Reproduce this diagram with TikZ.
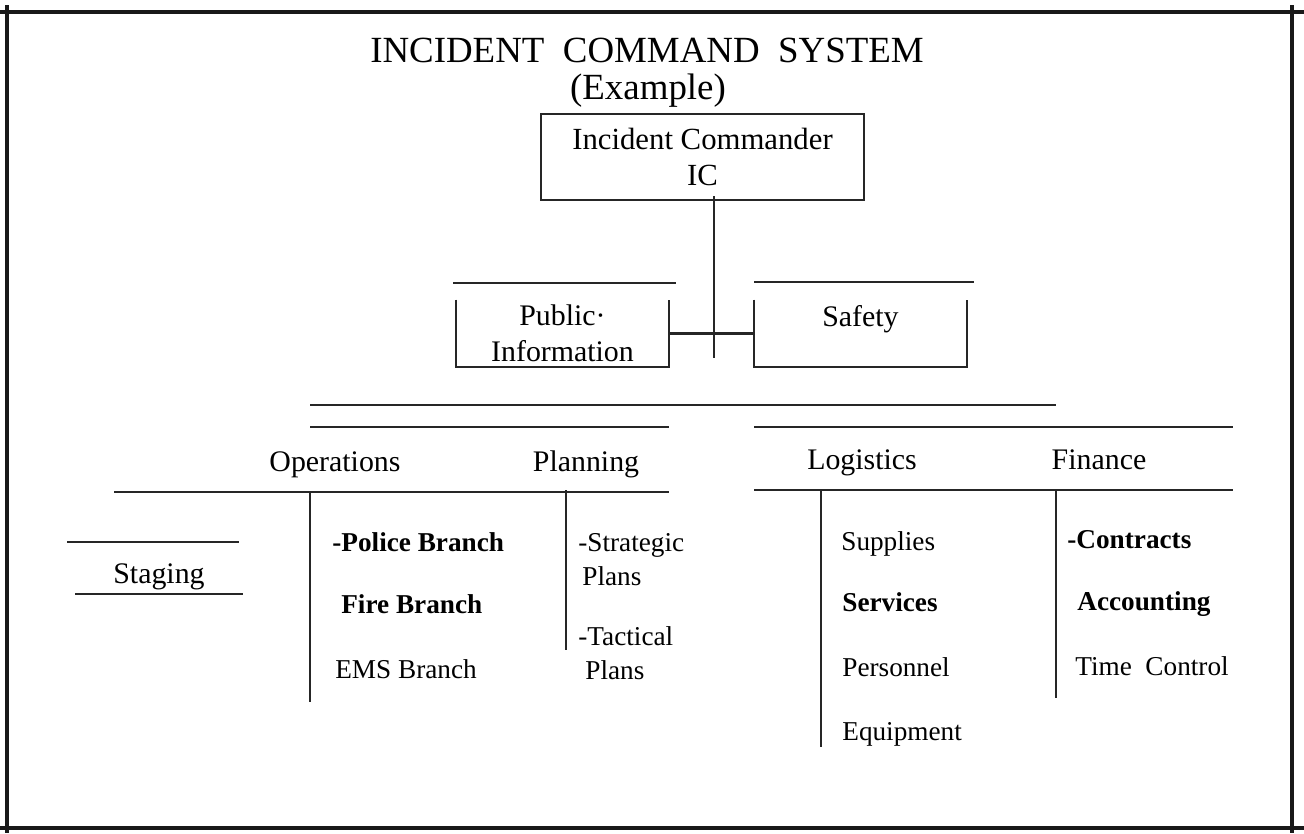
\documentclass[tikz,border=0pt]{standalone}
\usepackage{fontspec}
\setmainfont{Liberation Serif}

\begin{document}
\begin{tikzpicture}[x=0.02cm,y=-0.02cm,
	bar/.style={line width=1.2pt, draw=black!85},
	frameline/.style={line width=2pt, draw=black!90},
	title/.style={font=\fontsize{21}{24}\selectfont, inner sep=0pt},
	head/.style={anchor=base, inner sep=0pt, font=\fontsize{17}{20}\selectfont},
	icbox/.style={draw=black!85, line width=1.2pt, minimum width=6.46cm, minimum height=1.72cm, inner sep=0pt, align=center, font=\fontsize{17.5}{20}\selectfont},
	openbox/.style={minimum width=4.26cm, minimum height=1.34cm, inner sep=0pt, align=center, font=\fontsize{17}{20.5}\selectfont},
	item/.style={anchor=base west, inner sep=0pt, font=\fontsize{15.5}{19}\selectfont},
	bitem/.style={item, font=\fontsize{15.5}{19}\selectfont\bfseries}]
	\useasboundingbox (0,0) rectangle (1304,833);
	% frame
	\draw[frameline] (0,12) -- (1304,12);
	\draw[frameline] (0,828) -- (1304,828);
	\draw[frameline] (7,5) -- (7,833);
	\draw[frameline] (1292,5) -- (1292,833);
	% title
	\node[title] (title) at (647,50) {INCIDENT\ \ COMMAND\ \ SYSTEM};
	\node[title] (example) at (648,91) {(Example)};
	% commander and staff
	\node[icbox] (ic) at (702.5,157) {Incident Commander\\IC};
	\node[openbox] (pi) at (562.5,333.5) {Public·\\Information};
	\node[openbox] (safety) at (860.5,333.5) {Safety\\\phantom{I}};
	\draw[bar] (453,283) -- (676,283);
	\draw[bar] (754,282) -- (974,282);
	\draw[bar] (pi.north west) -- (pi.south west) -- (pi.south east) -- (pi.north east);
	\draw[bar] (safety.north west) -- (safety.south west) -- (safety.south east) -- (safety.north east);
	\coordinate (icfoot) at (714,358);
	\draw[bar] ([yshift=0.1cm]icfoot |- ic.south) -- (icfoot);
	\draw[bar] (pi.east) -- (safety.west);
	% sections
	\draw[bar] (310,405) -- (1056,405);
	\draw[bar] (310,427) -- (669,427);
	\draw[bar] (114,492) -- (669,492);
	\draw[bar] (754,427) -- (1233,427);
	\draw[bar] (754,490) -- (1233,490);
	\node[head] (ops) at (335,471) {Operations};
	\node[head] (plan) at (586,471) {Planning};
	\node[head] (log) at (862,469) {Logistics};
	\node[head] (fin) at (1099,469) {Finance};
	\draw[bar] (310,492) -- (310,702);
	\draw[bar] (566,490) -- (566,650);
	\draw[bar] (821,490) -- (821,747);
	\draw[bar] (1056,490) -- (1056,698);
	% staging
	\draw[bar] (67,542) -- (239,542);
	\draw[bar] (75,594) -- (243,594);
	\node[head] (staging) at (159,583) {Staging};
	% operations
	\node[bitem] (police) at (332,551) {-Police Branch};
	\node[bitem] (fire) at (341,613) {Fire Branch};
	\node[item] (ems) at (335,678) {EMS Branch};
	% planning
	\node[item] (strat) at (578,551) {-Strategic};
	\node[item] (stratb) at (582,585) {Plans};
	\node[item] (tact) at (578,645) {-Tactical};
	\node[item] (tactb) at (585,679) {Plans};
	% logistics
	\node[item] (supp) at (841,550) {Supplies};
	\node[bitem] (serv) at (842,611) {Services};
	\node[item] (pers) at (842,676) {Personnel};
	\node[item] (equip) at (842,740) {Equipment};
	% finance
	\node[bitem] (contr) at (1067,548) {-Contracts};
	\node[bitem] (acct) at (1077,610) {Accounting};
	\node[item] (time) at (1075,675) {Time\ \ Control};
\end{tikzpicture}
\end{document}
